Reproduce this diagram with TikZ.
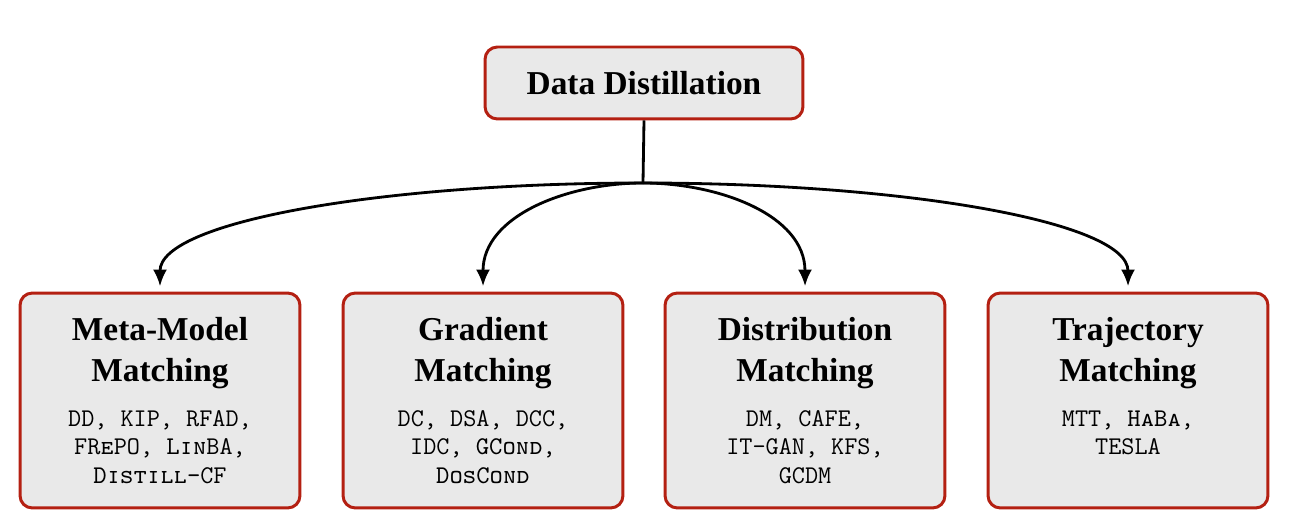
\documentclass[tikz,border=0pt]{standalone}
\usepackage{fontspec}
\setmainfont{Liberation Serif}
\usetikzlibrary{arrows.meta}
\definecolor{boxred}{RGB}{180,32,18}
\definecolor{boxgray}{RGB}{233,233,233}
\tikzset{
	famblock/.style={draw=boxred, fill=boxgray, line width=1.7pt, rounded corners=7pt, inner sep=0pt, align=center},
	branch/.style={line width=1.6pt, -{Latex[length=9.5pt,width=8pt]}, shorten >=3pt}
}
\newcommand{\famtext}[2]{\parbox[c][4.3cm][t]{5.6cm}{\centering\vspace*{14pt}%
	{\fontsize{19}{23}\selectfont\bfseries #1\par}\vspace{10pt}%
	{\fontsize{14.5}{16}\selectfont\ttfamily #2\par}}}

\begin{document}
\begin{tikzpicture}[x=0.02cm, y=-0.02cm]
	\useasboundingbox (0,0) rectangle (1296,530);
	% --- root ---
	\node[famblock, minimum width=6.36cm, minimum height=1.44cm, font=\fontsize{19}{22}\selectfont\bfseries] (root) at (644,83) {Data Distillation};
	\coordinate (split) at (643,183);

	% --- families ---
	\node[famblock] (meta) at (160,400.5) {\famtext{Meta-Model\\Matching}{DD, KIP, RFAD,\\FR\textsc{e}PO, \textsc{Lin}BA,\\\textsc{Distill-}CF}};
	\node[famblock] (grad) at (483,400.5) {\famtext{Gradient\\Matching}{DC, DSA, DCC,\\IDC, \textsc{GCond},\\\textsc{DosCond}}};
	\node[famblock] (dist) at (805,400.5) {\famtext{Distribution\\Matching}{DM, CAFE,\\IT-GAN, KFS,\\GCDM}};
	\node[famblock] (traj) at (1128,400.5) {\famtext{Trajectory\\Matching}{MTT, \textsc{HaBa},\\TESLA}};

	\draw[line width=1.6pt] (root.south) -- (split);
	\draw[branch] (split) .. controls +(-260,0) and +(0,-70) .. (meta.north);
	\draw[branch] (split) to[out=180, in=90] (grad.north);
	\draw[branch] (split) to[out=0, in=90] (dist.north);
	\draw[branch] (split) .. controls +(260,0) and +(0,-70) .. (traj.north);
\end{tikzpicture}
\end{document}
